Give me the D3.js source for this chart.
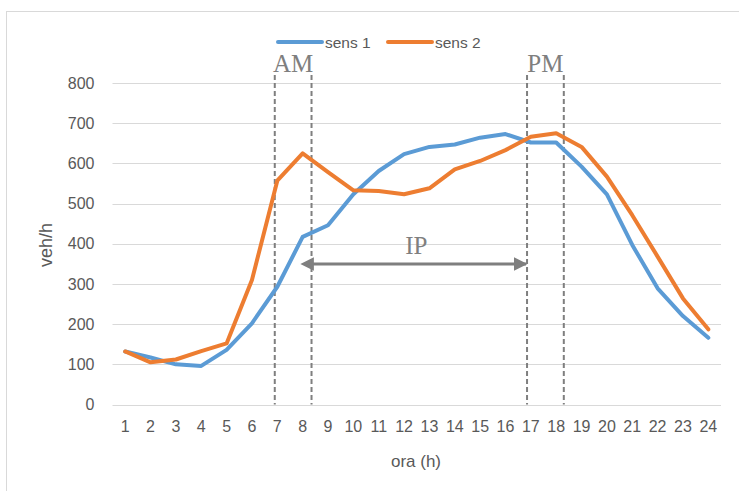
<!DOCTYPE html>
<html>
<head>
<meta charset="utf-8">
<script src="https://cdn.jsdelivr.net/npm/d3@7"></script>
<style>
  body { margin: 0; background: #fff; }
  svg { display: block; font-family: "Liberation Sans", "Open Sans", sans-serif; }
</style>
</head>
<body>
<svg id="chart" width="739" height="491"></svg>
<script>
"use strict";

// hours on the x axis
const hours = [1, 2, 3, 4, 5, 6, 7, 8, 9, 10, 11, 12, 13, 14, 15, 16, 17, 18, 19, 20, 21, 22, 23, 24];
// veh/h
const sens1 = [132, 117, 100, 96, 136, 202, 293, 417, 446, 523, 581, 623, 641, 647, 664, 673, 652, 652, 592, 523, 397, 289, 220, 166];
const sens2 = [132, 105, 112, 133, 152, 310, 557, 625, 578, 533, 531, 523, 538, 585, 606, 633, 666, 675, 641, 567, 471, 368, 264, 187];
const yTicks = [0, 100, 200, 300, 400, 500, 600, 700, 800];
const seriesNames = ["sens 1", "sens 2"];
// peak windows, in hours (drawn by hand in the original)
const amWindow = [6.9, 8.35];
const pmWindow = [16.85, 18.3];

const colors = ["#5b9bd5", "#ed7d31"];
const textGrey = "#595959";
const svg = d3.select("#chart");

// outer chart border
svg.append("rect")
  .attr("x", 6.5).attr("y", 11.5)
  .attr("width", 760).attr("height", 500)
  .attr("fill", "none").attr("stroke", "#d9d9d9");

const plotL = 112.5, plotR = 721, plotT = 83, plotB = 404.5;

const x = d3.scaleBand().domain(hours).range([plotL, plotR]);
const y = d3.scaleLinear().domain([0, 800]).range([plotB, plotT]);
// continuous hour scale for the dashed markers
const xh = d3.scaleLinear().domain([1, 24])
  .range([x(1) + x.bandwidth() / 2, x(24) + x.bandwidth() / 2]);

// gridlines
svg.append("g")
  .selectAll("line")
  .data(yTicks)
  .join("line")
  .attr("x1", plotL).attr("x2", plotR)
  .attr("y1", d => Math.round(y(d)) + 0.5).attr("y2", d => Math.round(y(d)) + 0.5)
  .attr("stroke", "#d9d9d9").attr("stroke-width", 1);

// y axis labels
const yAxis = svg.append("g")
  .attr("transform", `translate(${plotL - 9},0)`)
  .call(d3.axisLeft(y).tickValues(yTicks).tickSize(0).tickPadding(9));
yAxis.select(".domain").remove();
yAxis.selectAll("text").attr("fill", textGrey).attr("font-size", 16);

// x axis labels
const xAxis = svg.append("g")
  .attr("transform", `translate(0,${plotB})`)
  .call(d3.axisBottom(x).tickSize(0).tickPadding(16));
xAxis.select(".domain").remove();
xAxis.selectAll("text").attr("fill", textGrey).attr("font-size", 16);

// axis titles
svg.append("text")
  .attr("transform", "translate(52,245) rotate(-90)")
  .attr("text-anchor", "middle")
  .attr("fill", textGrey).attr("font-size", 18)
  .text("veh/h");
svg.append("text")
  .attr("x", 416).attr("y", 467)
  .attr("text-anchor", "middle")
  .attr("fill", textGrey).attr("font-size", 17)
  .text("ora (h)");

// dashed peak markers
const marks = amWindow.concat(pmWindow);
svg.append("g")
  .selectAll("line")
  .data(marks)
  .join("line")
  .attr("x1", d => xh(d)).attr("x2", d => xh(d))
  .attr("y1", 75).attr("y2", plotB)
  .attr("stroke", "#7f7f7f").attr("stroke-width", 2)
  .attr("stroke-dasharray", "5,3");

const serif = "'Liberation Serif', 'DejaVu Serif', serif";
svg.append("text")
  .attr("x", xh(d3.mean(amWindow))).attr("y", 72)
  .attr("text-anchor", "middle")
  .attr("font-family", serif).attr("font-size", 25)
  .attr("fill", "#7f7f7f")
  .text("AM");
svg.append("text")
  .attr("x", xh(d3.mean(pmWindow))).attr("y", 72)
  .attr("text-anchor", "middle")
  .attr("font-family", serif).attr("font-size", 25)
  .attr("fill", "#7f7f7f")
  .text("PM");

// IP arrow between the windows
const defs = svg.append("defs");
["start", "end"].forEach(k => {
  defs.append("marker")
    .attr("id", "arr-" + k)
    .attr("viewBox", "0 0 10 10")
    .attr("refX", k == "end" ? 9 : 1).attr("refY", 5)
    .attr("markerWidth", 4.5).attr("markerHeight", 4.5)
    .attr("markerUnits", "strokeWidth")
    .attr("orient", "auto-start-reverse")
    .append("path")
    .attr("d", "M0,0 L10,5 L0,10 z")
    .attr("fill", "#7f7f7f");
});
const arrowY = 264;
svg.append("line")
  .attr("x1", xh(amWindow[1]) + 1).attr("x2", xh(pmWindow[0]) - 1)
  .attr("y1", arrowY).attr("y2", arrowY)
  .attr("stroke", "#7f7f7f").attr("stroke-width", 3)
  .attr("marker-start", "url(#arr-start)")
  .attr("marker-end", "url(#arr-end)");
svg.append("text")
  .attr("x", (xh(amWindow[1]) + xh(pmWindow[0])) / 2 - 3).attr("y", 254)
  .attr("text-anchor", "middle")
  .attr("font-family", serif).attr("font-size", 25)
  .attr("fill", "#7f7f7f")
  .text("IP");

// lines
const line = d3.line()
  .x((d, i) => x(hours[i]) + x.bandwidth() / 2)
  .y(d => y(d));

[sens1, sens2].forEach((s, i) => {
  svg.append("path")
    .datum(s)
    .attr("d", line)
    .attr("fill", "none")
    .attr("stroke", colors[i])
    .attr("stroke-width", 4)
    .attr("stroke-linejoin", "round")
    .attr("stroke-linecap", "round");
});

// legend
const legend = svg.append("g").attr("transform", "translate(278,42)");
const legendX = [0, 110];
seriesNames.forEach((name, i) => {
  const g = legend.append("g").attr("transform", `translate(${legendX[i]},0)`);
  g.append("line")
    .attr("x1", 0).attr("x2", 44)
    .attr("stroke", colors[i]).attr("stroke-width", 4)
    .attr("stroke-linecap", "round");
  g.append("text")
    .attr("x", 47).attr("y", 5.5)
    .attr("fill", textGrey).attr("font-size", 15.5)
    .text(name);
});
</script>
</body>
</html>
